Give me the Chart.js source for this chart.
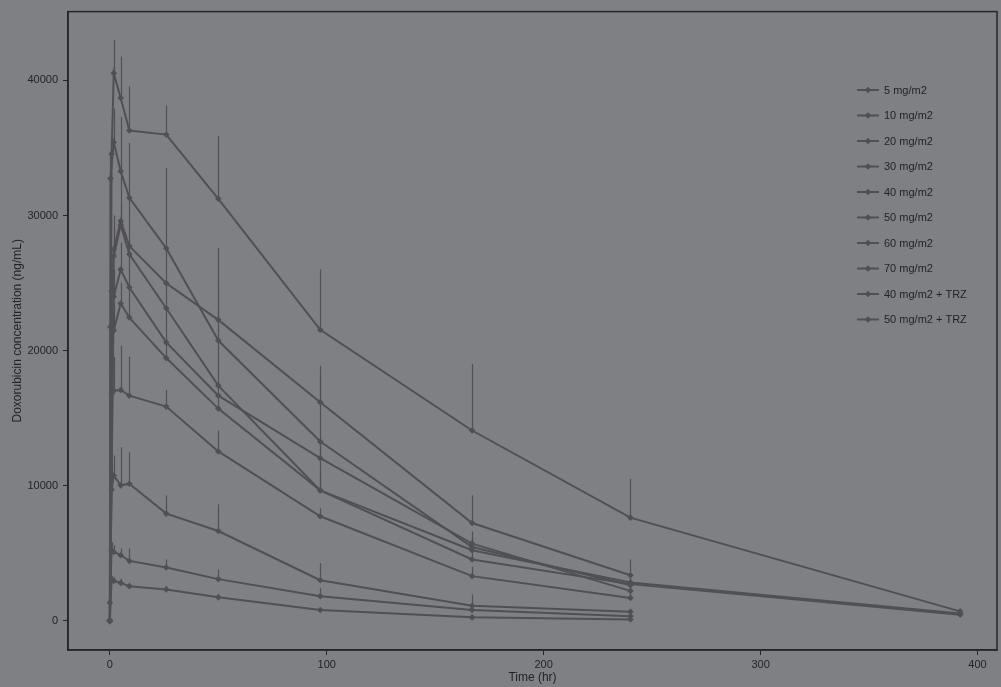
<!DOCTYPE html>
<html>
<head>
<meta charset="utf-8">
<script src="https://cdn.jsdelivr.net/npm/chart.js@4/dist/chart.umd.min.js"></script>
<style>
  html, body { margin: 0; padding: 0; background: #7f8084; }
  #wrap { width: 1001px; height: 687px; position: relative; }
</style>
</head>
<body>
<div id="wrap"><canvas id="c"></canvas></div>
<script>
// Sampling times (hr)
const times = [0, 0.25, 0.8, 1.8, 5, 9, 26, 50, 97, 167, 240, 392];

// Mean doxorubicin concentration (ng/mL) per dose group
const dose5    = [0, null, 3010, 2950, 2810, 2570, 2330, 1740, 800, 260, 100, null];
const dose10   = [1340, null, 5230, 5100, 4860, 4440, 3950, 3090, 1830, 800, 350, null];
const dose20   = [0, null, 9710, 10760, 10030, 10150, 7940, 6650, 3010, 1120, 670, null];
const dose30   = [0, null, 16800, 17040, 17090, 16670, 15860, 12540, 7740, 3310, 1700, null];
const dose40   = [0, 21760, null, 21500, 23490, 22450, 19450, 15710, 9660, 4540, 2720, 450];
const dose50   = [0, null, null, 24000, 26000, 24670, 20610, 16670, 12040, 5720, 2220, null];
const dose60   = [0, null, null, 27000, 29300, 27130, 23140, 17410, 9660, 5230, 2840, 550];
const dose70   = [0, null, 24420, 27500, 29590, 27740, 24990, 22280, 16180, 7240, 3380, null];
const dose40T  = [0, 32740, null, 35420, 33280, 31310, 27580, 20750, 13270, 5470, 2640, null];
const dose50T  = [0, null, 34560, 40540, 38700, 36290, 35990, 31240, 21540, 14090, 7640, 700];

// Standard deviations (upper error bars)
const sd5    = [null, null, 300, 300, 300, 250, 250, 250, 150, 100, 50, null];
const sd10   = [null, null, 600, 500, 490, 910, 590, 710, 590, 400, 150, null];
const sd20   = [null, null, 2000, 1480, 2820, 2330, 1350, 1970, 1260, 840, 200, null];
const sd30   = [null, null, 3000, 2500, 3270, 2880, 1230, 1550, 590, 700, 300, null];
const sd40   = [null, 2500, null, 2000, 1540, 2220, 1160, 1200, 1500, 800, 400, 150];
const sd50   = [null, null, null, 2000, 2000, 2460, 2530, 1000, 1200, 900, 400, null];
const sd60   = [null, null, null, 2000, 1500, 610, 1860, 3400, 3700, 1000, 500, 200];
const sd70   = [null, null, 2000, 2500, 3690, 3570, 2590, 2800, 2000, 2050, 1160, null];
const sd40T  = [null, 2000, null, 2500, 4000, 4060, 5950, 6870, 5610, 700, 500, null];
const sd50T  = [null, null, null, 2460, 3070, 3270, 2160, 4630, 4480, 4920, 2880, null];

const groupLabels = ['5 mg/m2', '10 mg/m2', '20 mg/m2', '30 mg/m2', '40 mg/m2',
                     '50 mg/m2', '60 mg/m2', '70 mg/m2', '40 mg/m2 + TRZ', '50 mg/m2 + TRZ'];
const groupMeans = [dose5, dose10, dose20, dose30, dose40, dose50, dose60, dose70, dose40T, dose50T];
const groupSDs   = [sd5, sd10, sd20, sd30, sd40, sd50, sd60, sd70, sd40T, sd50T];

const xTicks = [0, 100, 200, 300, 400];
const yTicks = [0, 10000, 20000, 30000, 40000];

const LINE = '#505054';
const AXIS = '#262628';
const TEXT = '#232325';
const FONT = '"Liberation Sans", Arial, Helvetica, sans-serif';

const datasets = groupMeans.map((vals, i) => ({
  label: groupLabels[i],
  data: times.map((t, j) => vals[j] == null ? null : { x: t, y: vals[j] }).filter(p => p),
  sd: groupSDs[i],
  means: vals,
  borderColor: LINE,
  backgroundColor: LINE,
  borderWidth: 2,
  pointStyle: 'rectRot',
  pointRadius: 3.3,
  pointBorderWidth: 0,
  tension: 0
}));

// Upper error bars (mean to mean + SD)
const errorBars = {
  id: 'errorBars',
  beforeDatasetsDraw(chart) {
    const { ctx, scales: { x, y } } = chart;
    ctx.save();
    ctx.strokeStyle = LINE;
    ctx.lineWidth = 1.2;
    chart.data.datasets.forEach(ds => {
      times.forEach((t, j) => {
        const m = ds.means[j], s = ds.sd[j];
        if (m == null || s == null) return;
        const px = Math.round(x.getPixelForValue(t)) + 0.5;
        ctx.beginPath();
        ctx.moveTo(px, y.getPixelForValue(m));
        ctx.lineTo(px, y.getPixelForValue(m + s));
        ctx.stroke();
      });
    });
    ctx.restore();
  }
};

// Panel border and legend inside the plot area
const panel = {
  id: 'panel',
  afterDraw(chart) {
    const { ctx, chartArea: a } = chart;
    ctx.save();
    ctx.strokeStyle = AXIS;
    ctx.lineWidth = 1.5;
    ctx.strokeRect(a.left, a.top, a.right - a.left, a.bottom - a.top);

    ctx.font = '11px ' + FONT;
    ctx.textBaseline = 'middle';
    chart.data.datasets.forEach((ds, i) => {
      const yy = 90 + i * 25.5;
      ctx.strokeStyle = LINE;
      ctx.lineWidth = 2;
      ctx.beginPath();
      ctx.moveTo(857, yy);
      ctx.lineTo(879, yy);
      ctx.stroke();
      ctx.fillStyle = LINE;
      ctx.beginPath();
      ctx.moveTo(868, yy - 3.3); ctx.lineTo(871.3, yy); ctx.lineTo(868, yy + 3.3); ctx.lineTo(864.7, yy);
      ctx.closePath();
      ctx.fill();
      ctx.fillStyle = TEXT;
      ctx.fillText(ds.label, 884, yy + 0.5);
    });
    ctx.restore();
  }
};

new Chart(document.getElementById('c'), {
  type: 'line',
  data: { datasets },
  options: {
    responsive: true,
    maintainAspectRatio: false,
    animation: false,
    spanGaps: true,
    layout: { padding: { top: 10, right: 1, left: 0, bottom: 0 } },
    plugins: { legend: { display: false }, tooltip: { enabled: false } },
    scales: {
      x: {
        type: 'linear',
        min: -19.3,
        max: 409,
        afterFit: s => { s.height = 37; },
        afterBuildTicks: s => { s.ticks = xTicks.map(v => ({ value: v })); },
        border: { display: true, color: AXIS, width: 1.5 },
        grid: { drawOnChartArea: false, drawTicks: true, tickLength: 5, color: AXIS, lineWidth: 1 },
        ticks: { color: TEXT, font: { family: FONT, size: 11 }, padding: 3, maxRotation: 0,
                 callback: v => String(v) },
        title: { display: true, text: 'Time (hr)', color: TEXT, font: { family: FONT, size: 12 }, padding: { top: 0, bottom: 2 } }
      },
      y: {
        type: 'linear',
        min: -2156,
        max: 45095,
        afterFit: s => { s.width = 68; },
        afterBuildTicks: s => { s.ticks = yTicks.map(v => ({ value: v })); },
        border: { display: true, color: AXIS, width: 1.5 },
        grid: { drawOnChartArea: false, drawTicks: true, tickLength: 5, color: AXIS, lineWidth: 1 },
        ticks: { color: TEXT, font: { family: FONT, size: 11 }, padding: 5,
                 callback: v => String(v) },
        title: { display: true, text: 'Doxorubicin concentration (ng/mL)', color: TEXT, font: { family: FONT, size: 12 }, padding: { top: 10, bottom: 0 } }
      }
    }
  },
  plugins: [errorBars, panel]
});
</script>
</body>
</html>
